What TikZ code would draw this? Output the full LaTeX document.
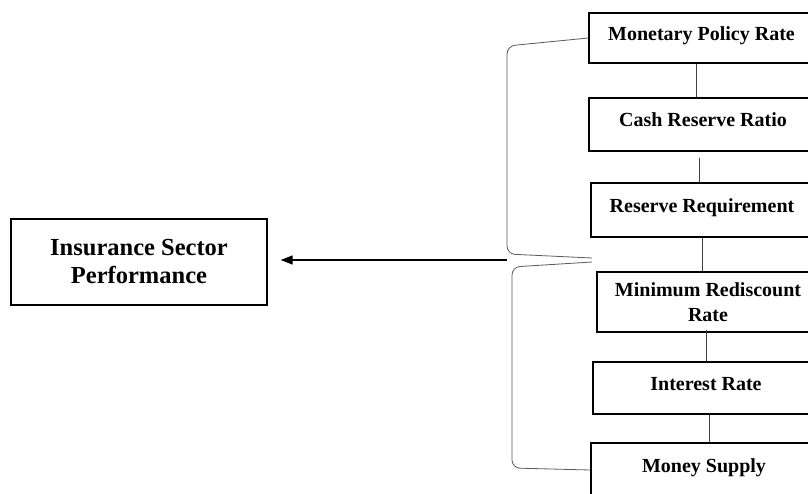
\documentclass[tikz,border=0pt]{standalone}
\usepackage{fontspec}
\setmainfont{Liberation Serif}
\usetikzlibrary{arrows.meta}
\begin{document}
\begin{tikzpicture}[x=1pt,y=-1pt,
  rbox/.style={draw=black, line width=1.3pt, rectangle, inner sep=0pt,
    font=\bfseries\fontsize{20}{25}\selectfont, align=center},
  single/.style={text height=13pt, text depth=9pt},
  lbox/.style={draw=black, line width=1.3pt, rectangle, inner sep=0pt,
    font=\bfseries\fontsize{24.5}{28}\selectfont, align=center,
    minimum width=256pt, minimum height=86pt},
  link/.style={draw=black!75, line width=0.7pt},
  brace/.style={draw=black!65, line width=0.8pt, rounded corners=8pt},
  arr/.style={draw=black, line width=1.2pt, -{Triangle[length=12pt,width=9pt]}}
]
\useasboundingbox (0,0) rectangle (808,493);

\node[lbox] (isp) at (139,262) {Insurance Sector\\Performance};

\node[rbox, single, minimum width=225pt, minimum height=50pt] (mpr) at (701.5,38) {Monetary Policy Rate};
\node[rbox, single, minimum width=228pt, minimum height=53pt] (crr) at (703,124.5) {Cash Reserve Ratio};
\node[rbox, single, minimum width=222pt, minimum height=54pt] (rr) at (702,210) {Reserve Requirement};
\node[rbox, minimum width=222pt, minimum height=60pt] (mrr) at (708,302) {Minimum Rediscount\\Rate};
\node[rbox, single, minimum width=226pt, minimum height=52pt] (ir) at (706,388) {Interest Rate};
\node[rbox, single, minimum width=226pt, minimum height=54pt] (ms) at (704,470) {Money Supply};

\draw[link] ([xshift=-5.5pt]mpr.south) -- ([xshift=-7pt]crr.north);
\draw[link] ([xshift=-4pt,yshift=-6pt]crr.south) -- ([xshift=-3pt]rr.north);
\draw[link] ([xshift=0pt]rr.south) -- ([xshift=-6pt]mrr.north);
\draw[link] ([xshift=-2pt,yshift=3pt]mrr.south) -- ([xshift=0pt]ir.north);
\draw[link] ([xshift=3pt]ir.south) -- ([xshift=5pt]ms.north);

\coordinate (ub) at (592,258);
\coordinate (lb) at (592,262);
\coordinate (tip) at (507,260);

\draw[brace] (mpr.west) -- (507,46) -- (507,254) -- (ub);
\draw[brace] (lb) -- (512,267) -- (512,468) -- (ms.west);

\draw[arr, shorten >=13pt] (tip) -- (tip -| isp.east);
\end{tikzpicture}
\end{document}
